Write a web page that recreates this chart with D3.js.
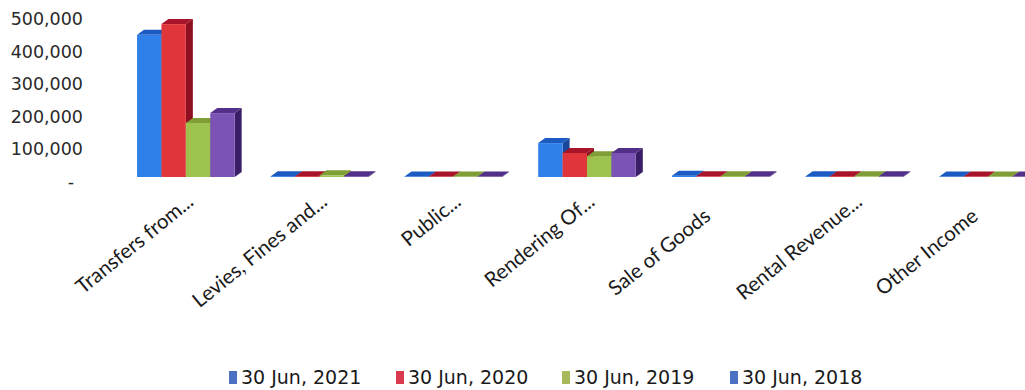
<!DOCTYPE html>
<html>
<head>
<meta charset="utf-8">
<script src="https://cdn.jsdelivr.net/npm/d3@7/dist/d3.min.js"></script>
<style>
  html, body { margin: 0; padding: 0; background: #ffffff; }
  svg { display: block; }
</style>
</head>
<body>
<svg id="chart" width="1025" height="390"></svg>
<script>
// ---- data ----
const categories = ["Transfers from...", "Levies, Fines and...", "Public...", "Rendering Of...", "Sale of Goods", "Rental Revenue...", "Other Income"];
const seriesNames = ["30 Jun, 2021", "30 Jun, 2020", "30 Jun, 2019", "30 Jun, 2018"];
const values2021 = [436000, 2500, 1500, 104000, 4000, 2500, 1500];
const values2020 = [469000, 2500, 1500, 74000, 2000, 2500, 1500];
const values2019 = [166000, 5000, 1500, 64000, 2500, 2000, 1500];
const values2018 = [196000, 2500, 1500, 74000, 2000, 2000, 1500];
const yTicks = [0, 100000, 200000, 300000, 400000, 500000];
const yTickLabels = ["-", "100,000", "200,000", "300,000", "400,000", "500,000"];

const seriesValues = [values2021, values2020, values2019, values2018];

// ---- styles ----
const faceColors = [
  { front: "#2f80e8", top: "#1c5cc2", side: "#17479a" },
  { front: "#e1353c", top: "#a8142a", side: "#8e1020" },
  { front: "#9dc24d", top: "#7f9e36", side: "#617c26" },
  { front: "#7b53b4", top: "#52308a", side: "#3a1f68" }
];
const legendColors = ["#4b70c4", "#d93a4f", "#a6b95b", "#4b70c4"];
const depthX = 7, depthY = 5;

const svg = d3.select("#chart");

const y = d3.scaleLinear().domain([0, 500000]).range([177, 14]);
const x = d3.scaleBand().domain(categories).range([119, 1055]).paddingInner(0.27).paddingOuter(0.135);
const xs = d3.scaleBand().domain(seriesNames).range([0, x.bandwidth()]);

// ---- y axis labels ----
const yAxisG = svg.append("g");
yAxisG.selectAll("text").data(yTicks).join("text")
  .attr("x", d => d === 0 ? 74 : 83)
  .attr("y", d => y(d) + 6)
  .attr("dominant-baseline", "middle")
  .attr("text-anchor", "end")
  .attr("font-family", "DejaVu Sans, sans-serif")
  .attr("font-size", 17.5)
  .attr("fill", "#2a2a2a")
  .text((d, i) => yTickLabels[i]);

// ---- bars ----
const barsG = svg.append("g");
categories.forEach((cat, ci) => {
  seriesNames.forEach((s, si) => {
    const v = seriesValues[si][ci];
    const x0 = x(cat) + xs(s);
    const w = xs.bandwidth();
    const yt = y(v), yb = y(0);
    const c = faceColors[si];
    const g = barsG.append("g");
    g.append("polygon")
      .attr("points", [[x0 + w, yt], [x0 + w + depthX, yt - depthY], [x0 + w + depthX, yb - depthY], [x0 + w, yb]].map(p => p.join(",")).join(" "))
      .attr("fill", c.side);
    g.append("rect")
      .attr("x", x0).attr("y", yt).attr("width", w).attr("height", Math.max(0, yb - yt))
      .attr("fill", c.front);
    g.append("polygon")
      .attr("points", [[x0, yt], [x0 + depthX, yt - depthY], [x0 + w + depthX, yt - depthY], [x0 + w, yt]].map(p => p.join(",")).join(" "))
      .attr("fill", c.top);
  });
});

// ---- category labels ----
const angle = -39;
const rad = angle * Math.PI / 180;
const dirX = Math.cos(rad), dirY = Math.sin(rad);
const boxLen = 170;
const labelG = svg.append("g");
categories.forEach(cat => {
  const ex = x(cat) + x.bandwidth() / 2 + 9;
  const ey = 204;
  const truncated = cat.endsWith("...");
  let ax = ex, ay = ey, anchor = "end";
  if (!truncated) {
    ax = ex - dirX * boxLen / 2;
    ay = ey - dirY * boxLen / 2;
    anchor = "middle";
  }
  labelG.append("text")
    .attr("transform", `translate(${ax},${ay}) rotate(${angle})`)
    .attr("text-anchor", anchor)
    .attr("font-family", "Lato, sans-serif")
    .attr("font-size", 20.5)
    .attr("fill", "#1a1a1a")
    .text(cat);
});

// ---- legend ----
const legendX = [229, 396, 562, 730];
const legendG = svg.append("g");
seriesNames.forEach((s, i) => {
  legendG.append("rect")
    .attr("x", legendX[i]).attr("y", 371).attr("width", 8).attr("height", 13)
    .attr("fill", legendColors[i]);
  legendG.append("text")
    .attr("x", legendX[i] + 12).attr("y", 378)
    .attr("dominant-baseline", "middle")
    .attr("font-family", "DejaVu Sans, sans-serif")
    .attr("font-size", 19)
    .attr("fill", "#1a1a1a")
    .text(s);
});
</script>
</body>
</html>
